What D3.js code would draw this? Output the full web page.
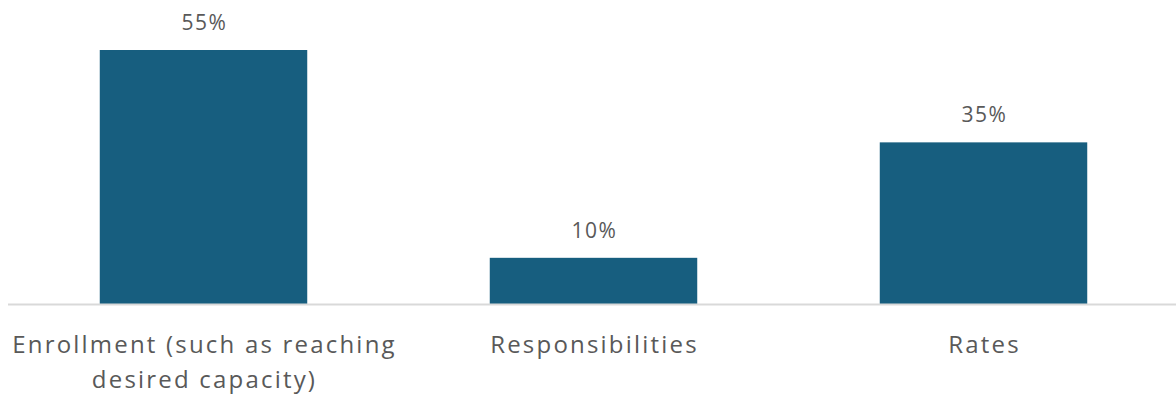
<!DOCTYPE html>
<html>
<head>
<meta charset="utf-8">
<script src="https://cdn.jsdelivr.net/npm/d3@7"></script>
<style>
  html, body { margin: 0; padding: 0; background: #fff; }
  svg { display: block; }
</style>
</head>
<body>
<svg id="chart" width="1176" height="394"></svg>
<script>
// Share of responses by category
const categories = ["Enrollment (such as reaching desired capacity)", "Responsibilities", "Rates"];
const categoryLines = [["Enrollment (such as reaching", "desired capacity)"], ["Responsibilities"], ["Rates"]];
const values = [55, 10, 35];
const valueLabels = ["55%", "10%", "35%"];

const width = 1176;
const baseline = 304;

const svg = d3.select("#chart");

const x = d3.scaleBand()
  .domain(categories)
  .range([8.5, 1178.5])
  .paddingInner(0.468)
  .paddingOuter(0.234);

const y = d3.scaleLinear()
  .domain([0, 55])
  .range([baseline, 50]);

// bars
svg.append("g")
  .selectAll("rect")
  .data(values)
  .join("rect")
  .attr("x", (d, i) => x(categories[i]))
  .attr("y", d => y(d))
  .attr("width", x.bandwidth())
  .attr("height", d => y(0) - y(d))
  .attr("fill", "#175e7f");

// baseline axis
svg.append("line")
  .attr("x1", 8).attr("x2", width)
  .attr("y1", baseline + 0.5).attr("y2", baseline + 0.5)
  .attr("stroke", "#d9d9d9")
  .attr("stroke-width", 2);

const font = "'Open Sans', sans-serif";

// value labels
svg.append("g")
  .selectAll("text")
  .data(values)
  .join("text")
  .attr("x", (d, i) => x(categories[i]) + x.bandwidth() / 2 + 1)
  .attr("y", d => y(d) - 20)
  .attr("text-anchor", "middle")
  .attr("font-family", font)
  .attr("font-size", 21)
  .attr("letter-spacing", 1.6)
  .attr("fill", "#595959")
  .text((d, i) => valueLabels[i]);

// category labels
const cat = svg.append("g")
  .selectAll("text")
  .data(categories)
  .join("text")
  .attr("x", d => x(d) + x.bandwidth() / 2 + 1)
  .attr("y", 353)
  .attr("text-anchor", "middle")
  .attr("font-family", font)
  .attr("font-size", 24)
  .attr("letter-spacing", 2.2)
  .attr("fill", "#595959");

cat.selectAll("tspan")
  .data((d, i) => categoryLines[i])
  .join("tspan")
  .attr("x", function () { return d3.select(this.parentNode).attr("x"); })
  .attr("dy", (d, j) => j === 0 ? 0 : 35)
  .text(d => d);
</script>
</body>
</html>
